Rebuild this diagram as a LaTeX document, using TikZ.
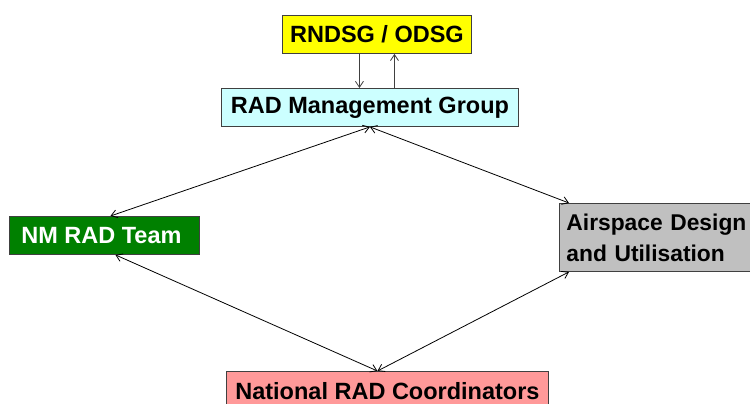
\documentclass[tikz,border=0pt]{standalone}
\usepackage{fontspec}
\setmainfont{Liberation Sans}
\usetikzlibrary{arrows.meta}
\definecolor{boxyellow}{HTML}{FFFF00}
\definecolor{boxcyan}{HTML}{CCFFFF}
\definecolor{boxgreen}{HTML}{008000}
\definecolor{boxgray}{HTML}{C0C0C0}
\definecolor{boxpink}{HTML}{FF9999}
\definecolor{edgegray}{HTML}{404040}
\tikzset{
  box/.style={draw=edgegray, line width=0.9pt, rectangle, anchor=north west,
    inner sep=0pt, font=\fontsize{23.5}{31}\selectfont\bfseries},
  link/.style={line width=0.8pt, {Straight Barb[length=6pt,width=8pt]}-{Straight Barb[length=6pt,width=8pt]}},
  vlink/.style={line width=0.8pt, draw=edgegray, -{Straight Barb[length=6pt,width=8pt]}}
}
\begin{document}
\begin{tikzpicture}[x=1pt,y=-1pt]
\useasboundingbox (0,0) rectangle (750,404);
\clip (0,0) rectangle (750,404);
\node[box, fill=boxyellow, minimum width=189pt, minimum height=38pt] (top) at (282,15) {RNDSG / ODSG};
\node[box, fill=boxcyan, minimum width=297pt, minimum height=38pt] (mgmt) at (221,88) {RAD Management Group};
\node[box, fill=boxgreen, text=white, minimum width=190pt, minimum height=38pt] (nm) at (9,216) {\hspace*{-6pt}NM RAD Team};
\node[box, fill=boxgray, minimum width=225pt, minimum height=68pt, align=left, text width=215pt, inner xsep=7pt, font=\fontsize{22.8}{31}\selectfont\bfseries] (air) at (559,203) {Airspace Design\\and Utilisation};
\node[box, fill=boxpink, minimum width=322pt, minimum height=40pt] (nat) at (226,371) {National RAD Coordinators};
\draw[vlink] ([xshift=-17.5pt]top.south) -- ([xshift=-17.5pt]top.south |- mgmt.north);
\draw[vlink] ([xshift=17.5pt]top.south |- mgmt.north) -- ([xshift=17.5pt]top.south);
\draw[link] (mgmt.south) -- ([xshift=6pt]nm.north);
\draw[link] (mgmt.south) -- ([xshift=10pt]air.north west);
\draw[link] ([xshift=11pt]nm.south) -- ([xshift=-10pt]nat.north);
\draw[link] ([xshift=10pt]air.south west) -- ([xshift=-10pt]nat.north);
\end{tikzpicture}
\end{document}
